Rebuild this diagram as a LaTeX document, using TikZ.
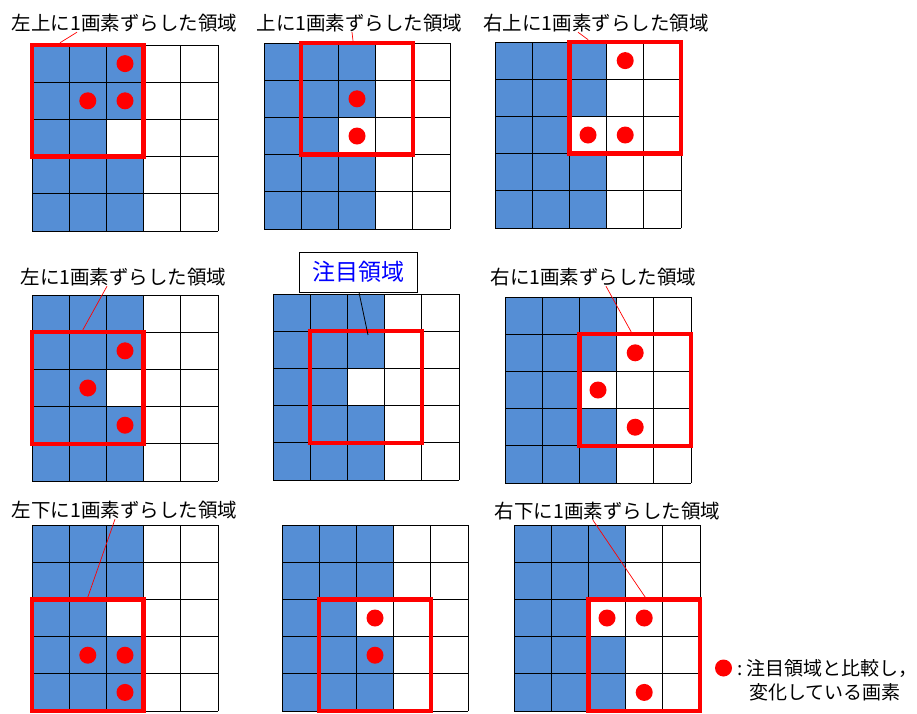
\documentclass[tikz,border=0pt]{standalone}
\usepackage{fontspec}
\setmainfont{Noto Sans CJK JP}
\usetikzlibrary{calc}
\definecolor{cell-blue}{HTML}{558ED5}
\definecolor{mark-red}{HTML}{FF0000}
\newcommand\cellsz{37.2}

\begin{document}
\begin{tikzpicture}[x=1pt, y=-1pt,
    every node/.style={font=\fontsize{19.5}{22}\selectfont, inner sep=0pt},
    gridln/.style={draw=black, line width=0.9pt},
    scanwin/.style={draw=mark-red, line width=4.5pt, minimum size=111.6pt},
    hitdot/.style={circle, fill=mark-red, minimum size=17pt},
    leader/.style={draw=mark-red, line width=0.7pt}]
  \fill[white] (0,0) rectangle (917,713);
  \useasboundingbox (0,0) rectangle (917,713);
  % nine 5x5 pixel blocks, window shifted by one pixel
  \foreach \n/\gx/\gy/\wr/\wc in {1/32/45/0/0, 2/264/43/0/1, 3/495/42/0/2,
      4/32/295/1/0, 5/273/294/1/1, 6/505/297/1/2,
      7/32/525/2/0, 8/282/525/2/1, 9/514/525/2/2} {
    \begin{scope}[shift={(\gx,\gy)}]
      \coordinate (g\n) at (0,0);
      \fill[cell-blue] (0,0) rectangle (3*\cellsz,5*\cellsz);
      \fill[white] (2*\cellsz,2*\cellsz) rectangle (3*\cellsz,3*\cellsz);
      \foreach \k in {0,...,5}
        \draw[gridln] (\k*\cellsz,0) -- (\k*\cellsz,5*\cellsz)
                      (0,\k*\cellsz) -- (5*\cellsz,\k*\cellsz);
      \node[scanwin] (w\n) at ({(\wc+1.5)*\cellsz},{(\wr+1.5)*\cellsz}) {};
    \end{scope}
  }
  % changed pixels
  \foreach \p/\r/\c in {1/0/2, 1/1/1, 1/1/2, 2/1/2, 2/2/2, 3/0/3, 3/2/2, 3/2/3,
      4/1/2, 4/2/1, 4/3/2, 6/1/3, 6/2/2, 6/3/3,
      7/3/1, 7/3/2, 7/4/2, 8/2/2, 8/3/2, 9/2/2, 9/2/3, 9/4/3}
    \node[hitdot] (d\p\r\c) at ($(g\p)+({(\c+.5)*\cellsz},{(\r+.5)*\cellsz})$) {};

  \node (l1) at (124.5,23) {左上に1画素ずらした領域};
  \node (l2) at (359.5,23) {上に1画素ずらした領域};
  \node (l3) at (596,23) {右上に1画素ずらした領域};
  \node (l4) at (123.5,277) {左に1画素ずらした領域};
  \node[draw=black, line width=0.8pt, fill=white, text=blue,
        font=\fontsize{23}{26}\selectfont,
        minimum width=118pt, minimum height=40pt] (focus) at (358,272) {注目領域};
  \node (l6) at (593.5,277) {右に1画素ずらした領域};
  \node (l7) at (124.5,510) {左下に1画素ずらした領域};
  \node (l9) at (607.5,511) {右下に1画素ずらした領域};

  \draw[leader] ([xshift=-47.5pt]l1.south) -- ([xshift=-27.8pt]w1.north);
  \draw[leader] ([xshift=-7.5pt]l2.south) -- ([xshift=-4pt]w2.north);
  \draw[leader] ([xshift=-18pt]l3.south) -- ([xshift=-37pt]w3.north);
  \draw[leader] ([xshift=-16.5pt]l4.south) -- ([xshift=-5pt]w4.north);
  \draw[line width=0.8pt] ([xshift=1pt]focus.south) -- ([xshift=2pt,yshift=-6pt]w5.north);
  \draw[leader] ([xshift=12.5pt]l6.south) -- ([xshift=-4pt]w6.north);
  \draw[leader] ([xshift=-9.5pt]l7.south) -- (w7.north);
  \draw[leader] ([xshift=-14.5pt]l9.south) -- ([xshift=1pt]w9.north);

  % legend
  \node[hitdot] (key) at (723.5,668) {};
  \node[anchor=west, align=left, font=\fontsize{19}{24}\selectfont]
        (keytxt) at (737,680) {:\ 注目領域と比較し，\\\hspace*{12pt}変化している画素};
\end{tikzpicture}
\end{document}
